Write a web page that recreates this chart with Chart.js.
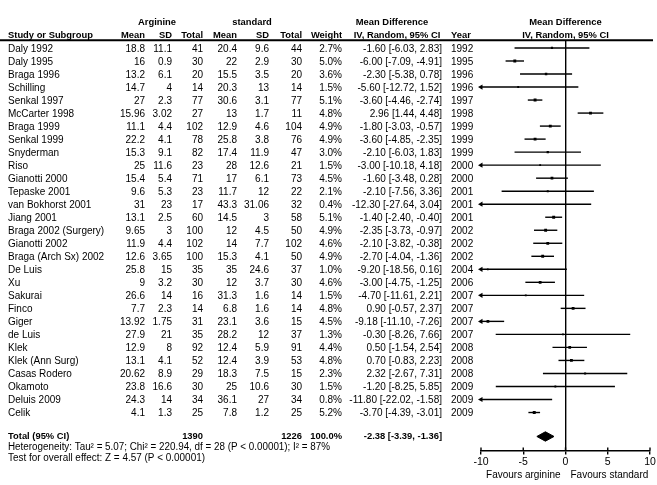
<!DOCTYPE html>
<html>
<head>
<meta charset="utf-8">
<script src="https://cdn.jsdelivr.net/npm/chart.js@4.4.1/dist/chart.umd.min.js"></script>
<style>
  body { margin: 0; background: #fff; }
  canvas { display: block; }
</style>
</head>
<body>
<canvas id="forest" width="657" height="485"></canvas>
<script>
// Study rows
const studies = ['Daly 1992', 'Daly 1995', 'Braga 1996', 'Schilling', 'Senkal 1997', 'McCarter 1998', 'Braga 1999',
  'Senkal 1999', 'Snyderman', 'Riso', 'Gianotti 2000', 'Tepaske 2001', 'van Bokhorst 2001', 'Jiang 2001',
  'Braga 2002 (Surgery)', 'Gianotti 2002', 'Braga (Arch Sx) 2002', 'De Luis', 'Xu', 'Sakurai', 'Finco', 'Giger',
  'de Luis', 'Klek', 'Klek (Ann Surg)', 'Casas Rodero', 'Okamoto', 'Deluis 2009', 'Celik'];
const argMean = ['18.8', '16', '13.2', '14.7', '27', '15.96', '11.1', '22.2', '15.3', '25', '15.4', '9.6', '31', '13.1',
  '9.65', '11.9', '12.6', '25.8', '9', '26.6', '7.7', '13.92', '27.9', '12.9', '13.1', '20.62', '23.8', '24.3', '4.1'];
const argSD = ['11.1', '0.9', '6.1', '4', '2.3', '3.02', '4.4', '4.1', '9.1', '11.6', '5.4', '5.3', '23', '2.5',
  '3', '4.4', '3.65', '15', '3.2', '14', '2.3', '1.75', '21', '8', '4.1', '8.9', '16.6', '14', '1.3'];
const argTotal = [41, 30, 20, 14, 77, 27, 102, 78, 82, 23, 71, 23, 17, 60, 100, 102, 100, 35, 30, 16, 14, 31, 35, 92, 52, 29, 30, 34, 25];
const stdMean = ['20.4', '22', '15.5', '20.3', '30.6', '13', '12.9', '25.8', '17.4', '28', '17', '11.7', '43.3', '14.5',
  '12', '14', '15.3', '35', '12', '31.3', '6.8', '23.1', '28.2', '12.4', '12.4', '18.3', '25', '36.1', '7.8'];
const stdSD = ['9.6', '2.9', '3.5', '13', '3.1', '1.7', '4.6', '3.8', '11.9', '12.6', '6.1', '12', '31.06', '3',
  '4.5', '7.7', '4.1', '24.6', '3.7', '1.6', '1.6', '3.6', '12', '5.9', '3.9', '7.5', '10.6', '27', '1.2'];
const stdTotal = [44, 30, 20, 14, 77, 11, 104, 76, 47, 21, 73, 22, 32, 58, 50, 102, 50, 37, 30, 14, 14, 15, 37, 91, 53, 15, 30, 34, 25];
const weights = [2.7, 5.0, 3.6, 1.5, 5.1, 4.8, 4.9, 4.9, 3.0, 1.5, 4.5, 2.1, 0.4, 5.1, 4.9, 4.6, 4.9, 1.0, 4.6, 1.5, 4.8, 4.5, 1.3, 4.4, 4.8, 2.3, 1.5, 0.8, 5.2];
const meanDiff = [-1.60, -6.00, -2.30, -5.60, -3.60, 2.96, -1.80, -3.60, -2.10, -3.00, -1.60, -2.10, -12.30, -1.40,
  -2.35, -2.10, -2.70, -9.20, -3.00, -4.70, 0.90, -9.18, -0.30, 0.50, 0.70, 2.32, -1.20, -11.80, -3.70];
const ciLow = [-6.03, -7.09, -5.38, -12.72, -4.46, 1.44, -3.03, -4.85, -6.03, -10.18, -3.48, -7.56, -27.64, -2.40,
  -3.73, -3.82, -4.04, -18.56, -4.75, -11.61, -0.57, -11.10, -8.26, -1.54, -0.83, -2.67, -8.25, -22.02, -4.39];
const ciHigh = [2.83, -4.91, 0.78, 1.52, -2.74, 4.48, -0.57, -2.35, 1.83, 4.18, 0.28, 3.36, 3.04, -0.40,
  -0.97, -0.38, -1.36, 0.16, -1.25, 2.21, 2.37, -7.26, 7.66, 2.54, 2.23, 7.31, 5.85, -1.58, -3.01];
const years = [1992, 1995, 1996, 1996, 1997, 1998, 1999, 1999, 1999, 2000, 2000, 2001, 2001, 2001, 2002, 2002, 2002,
  2004, 2006, 2007, 2007, 2007, 2007, 2008, 2008, 2008, 2009, 2009, 2009];

// Pooled result
const totalArg = 1390;
const totalStd = 1226;
const pooled = { md: -2.38, lo: -3.39, hi: -1.36 };
const heterogeneity = 'Heterogeneity: Tau\u00b2 = 5.07; Chi\u00b2 = 220.94, df = 28 (P < 0.00001); I\u00b2 = 87%';
const overallTest = 'Test for overall effect: Z = 4.57 (P < 0.00001)';

// Axis
const xTicks = [-10, -5, 0, 5, 10];
const xMin = -10, xMax = 10;

const FONT = '"Liberation Sans", Arial, sans-serif';
Chart.defaults.font.family = FONT;
Chart.defaults.color = '#000';

const n = studies.length;
const totalRow = n + 0.84;
const fmt = v => v.toFixed(2);

// one line dataset per study CI, arrow where CI runs past the axis
const ciSets = studies.map((s, i) => {
  const past = ciLow[i] < xMin;
  return {
    type: 'scatter',
    showLine: true,
    data: [{ x: Math.max(ciLow[i], xMin), y: i }, { x: Math.min(ciHigh[i], xMax), y: i }],
    borderColor: '#000',
    borderWidth: 1.4,
    pointRadius: [past ? 3 : 0, 0],
    pointStyle: 'triangle',
    rotation: 270,
    pointBackgroundColor: '#000',
    pointBorderWidth: 0,
    clip: false
  };
});

const pointSet = {
  type: 'scatter',
  data: meanDiff.map((v, i) => ({ x: v, y: i })),
  pointStyle: 'rect',
  pointRadius: weights.map(w => (1.4 + w * 0.3) / Math.SQRT2),
  backgroundColor: '#000',
  borderColor: '#000',
  borderWidth: 0
};

const diamondSet = {
  type: 'scatter',
  showLine: true,
  data: [
    { x: pooled.lo, y: totalRow },
    { x: pooled.md, y: totalRow - 0.36 },
    { x: pooled.hi, y: totalRow },
    { x: pooled.md, y: totalRow + 0.36 },
    { x: pooled.lo, y: totalRow }
  ],
  borderColor: '#000',
  borderWidth: 1,
  backgroundColor: '#000',
  fill: 'shape',
  pointRadius: 0,
  tension: 0
};

// Table text, header rule, upward tick marks
const tablePlugin = {
  id: 'table',
  afterDraw(chart) {
    const c = chart.ctx;
    const ys = chart.scales.y;
    const xs = chart.scales.x;
    const rowY = i => ys.getPixelForValue(i);
    const text = (t, x, y, align, bold, maxW) => {
      c.font = (bold ? 'bold 9.4px ' : '10px ') + FONT;
      c.textAlign = align;
      c.textBaseline = 'middle';
      if (maxW) c.fillText(t, x, y, maxW); else c.fillText(t, x, y);
    };
    c.save();
    c.fillStyle = '#000';

    // header
    const h1 = rowY(-2), h2 = rowY(-1);
    text('Arginine', 157, h1, 'center', true);
    text('standard', 252, h1, 'center', true);
    text('Mean Difference', 392, h1, 'center', true);
    text('Mean Difference', xs.getPixelForValue(0), h1, 'center', true);
    text('Study or Subgroup', 8, h2, 'left', true);
    text('Mean', 145, h2, 'right', true);
    text('SD', 172, h2, 'right', true);
    text('Total', 203, h2, 'right', true);
    text('Mean', 237, h2, 'right', true);
    text('SD', 269, h2, 'right', true);
    text('Total', 302, h2, 'right', true);
    text('Weight', 342, h2, 'right', true);
    text('IV, Random, 95% CI', 397, h2, 'center', true);
    text('Year', 451, h2, 'left', true);
    text('IV, Random, 95% CI', xs.getPixelForValue(0), h2, 'center', true);

    c.strokeStyle = '#000';
    c.lineWidth = 2;
    c.beginPath();
    c.moveTo(0, rowY(-0.6));
    c.lineTo(653, rowY(-0.6));
    c.stroke();

    // study rows
    studies.forEach((s, i) => {
      const y = rowY(i) + 1;
      text(s, 8, y, 'left');
      text(argMean[i], 145, y, 'right');
      text(argSD[i], 172, y, 'right');
      text(String(argTotal[i]), 203, y, 'right');
      text(stdMean[i], 237, y, 'right');
      text(stdSD[i], 269, y, 'right');
      text(String(stdTotal[i]), 302, y, 'right');
      text(weights[i].toFixed(1) + '%', 342, y, 'right');
      text(fmt(meanDiff[i]) + ' [' + fmt(ciLow[i]) + ', ' + fmt(ciHigh[i]) + ']', 442, y, 'right');
      text(String(years[i]), 451, y, 'left');
    });

    // total + footer
    const ty = rowY(totalRow);
    text('Total (95% CI)', 8, ty, 'left', true);
    text(String(totalArg), 203, ty, 'right', true);
    text(String(totalStd), 302, ty, 'right', true);
    text('100.0%', 342, ty, 'right', true);
    text(fmt(pooled.md) + ' [' + fmt(pooled.lo) + ', ' + fmt(pooled.hi) + ']', 442, ty, 'right', true);
    text(heterogeneity, 8, rowY(n + 1.68), 'left', false, 322);
    text(overallTest, 8, rowY(n + 2.52), 'left', false, 197);

    // tick marks above axis
    const ab = chart.chartArea.bottom;
    c.lineWidth = 1.4;
    xTicks.forEach(v => {
      const px = xs.getPixelForValue(v);
      c.beginPath();
      c.moveTo(px, ab - 3);
      c.lineTo(px, ab);
      c.stroke();
    });

    // favours labels
    const zx = xs.getPixelForValue(0);
    text('Favours arginine', zx - 5, 475, 'right');
    text('Favours standard', zx + 5, 475, 'left');
    c.restore();
  }
};

const ctx = document.getElementById('forest').getContext('2d');
const chart = new Chart(ctx, {
  type: 'scatter',
  data: { datasets: [...ciSets, pointSet, diamondSet] },
  options: {
    responsive: false,
    animation: false,
    layout: { padding: { left: 481, right: 7, top: 41, bottom: 16 } },
    plugins: { legend: { display: false }, tooltip: { enabled: false } },
    scales: {
      x: {
        type: 'linear',
        min: xMin,
        max: xMax,
        afterBuildTicks: axis => { axis.ticks = xTicks.map(v => ({ value: v })); },
        ticks: { color: '#000', font: { size: 10.5 }, padding: 1, maxRotation: 0 },
        border: { color: '#000', width: 1.4 },
        grid: {
          color: c => (c.tick && c.tick.value === 0 ? '#000' : 'rgba(0,0,0,0)'),
          lineWidth: 1.4,
          tickColor: '#000',
          tickLength: 4
        }
      },
      y: {
        type: 'linear',
        reverse: true,
        min: -0.536,
        max: 30.91,
        display: false
      }
    }
  },
  plugins: [tablePlugin]
});
</script>
</body>
</html>
